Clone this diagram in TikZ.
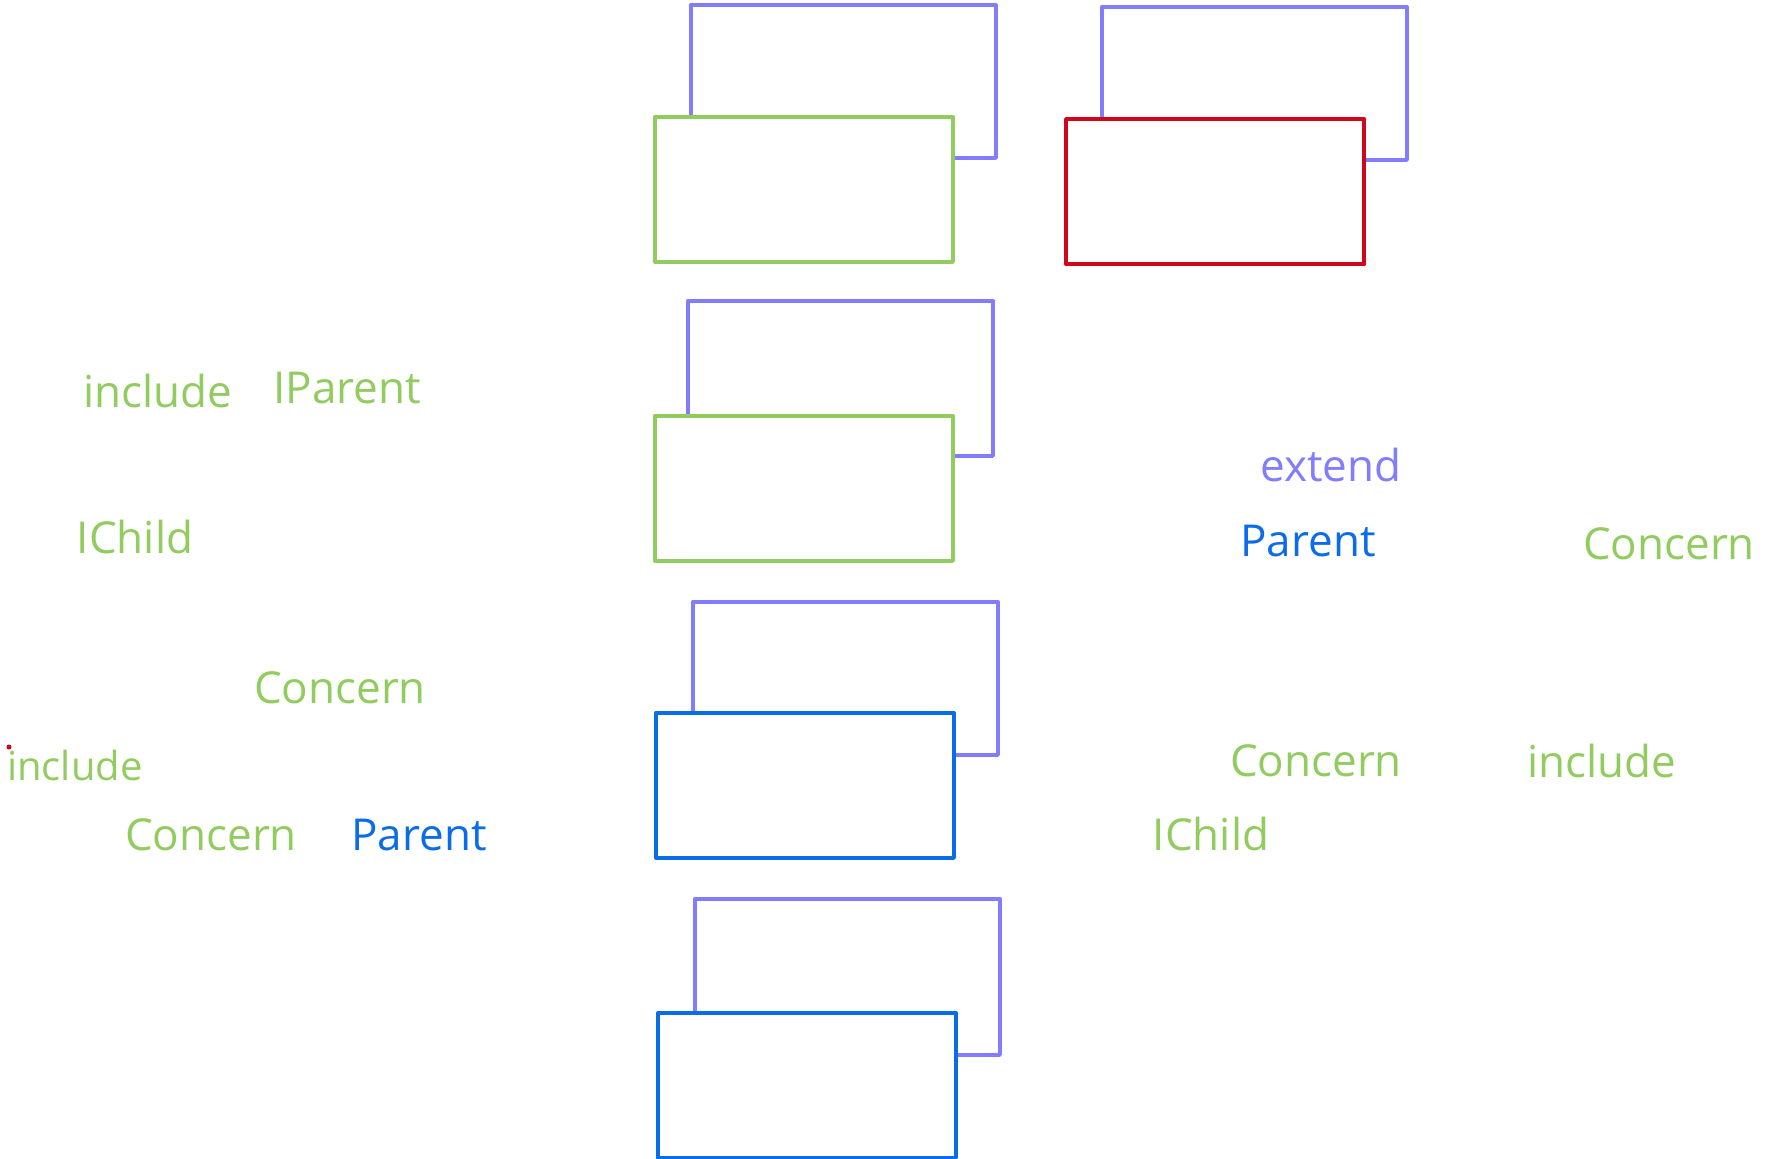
\documentclass[tikz,border=0pt]{standalone}
\usepackage{fontspec}
\setmainfont{Open Sans}
\definecolor{cPurple}{RGB}{130,124,255}
\definecolor{cGreen}{RGB}{146,204,96}
\definecolor{cRed}{RGB}{208,6,26}
\definecolor{cBlue}{RGB}{10,108,232}
\tikzset{
  backbox/.style={draw=cPurple, line width=3.8pt, line join=round, anchor=north west, inner sep=0pt, minimum width=305pt, minimum height=153pt},
  frontbox/.style={fill=white, line width=3.8pt, line join=round, anchor=north west, inner sep=0pt, minimum width=298pt, minimum height=145pt},
  lbl/.style={inner sep=0pt, font=\fontsize{44}{46}\selectfont}
}
\begin{document}
\begin{tikzpicture}[x=1pt,y=-1pt]
\useasboundingbox (0,0) rectangle (1765,1159);
% pair 1
\node[backbox] (b1) at (689,3) {};
\node[frontbox, draw=cGreen] (f1) at (653,115) {};
% pair 2
\node[backbox] (b2) at (1100,5) {};
\node[frontbox, draw=cRed, line width=4.4pt] (f2) at (1064,117) {};
% pair 3
\node[backbox, minimum height=155pt] (b3) at (686,299) {};
\node[frontbox, draw=cGreen] (f3) at (653,414) {};
% pair 4
\node[backbox] (b4) at (691,600) {};
\node[frontbox, draw=cBlue] (f4) at (654,711) {};
% pair 5
\node[backbox, minimum height=156pt] (b5) at (693,897) {};
\node[frontbox, draw=cBlue] (f5) at (656,1011) {};
% labels
\node[lbl, text=cGreen] (t1) at (158,391) {include};
\node[lbl, text=cGreen] (t2) at (347,388) {IParent};
\node[lbl, text=cGreen] (t3) at (135,537) {IChild};
\node[lbl, text=cGreen] (t4) at (340,688) {Concern};
\node[lbl, text=cGreen, anchor=west, font=\fontsize{40}{42}\selectfont] (t5) at (7,765) {include};
\fill[cRed] (9,747) circle (2.5pt);
\node[lbl, text=cGreen] (t6) at (211,835) {Concern};
\node[lbl, text=cBlue] (t7) at (419,835) {Parent};
\node[lbl, text=cPurple] (t8) at (1331,465) {extend};
\node[lbl, text=cBlue] (t9) at (1308,541) {Parent};
\node[lbl, text=cGreen] (t10) at (1669,544) {Concern};
\node[lbl, text=cGreen] (t11) at (1316,761) {Concern};
\node[lbl, text=cGreen] (t12) at (1602,761) {include};
\node[lbl, text=cGreen] (t13) at (1211,834) {IChild};
\end{tikzpicture}
\end{document}
